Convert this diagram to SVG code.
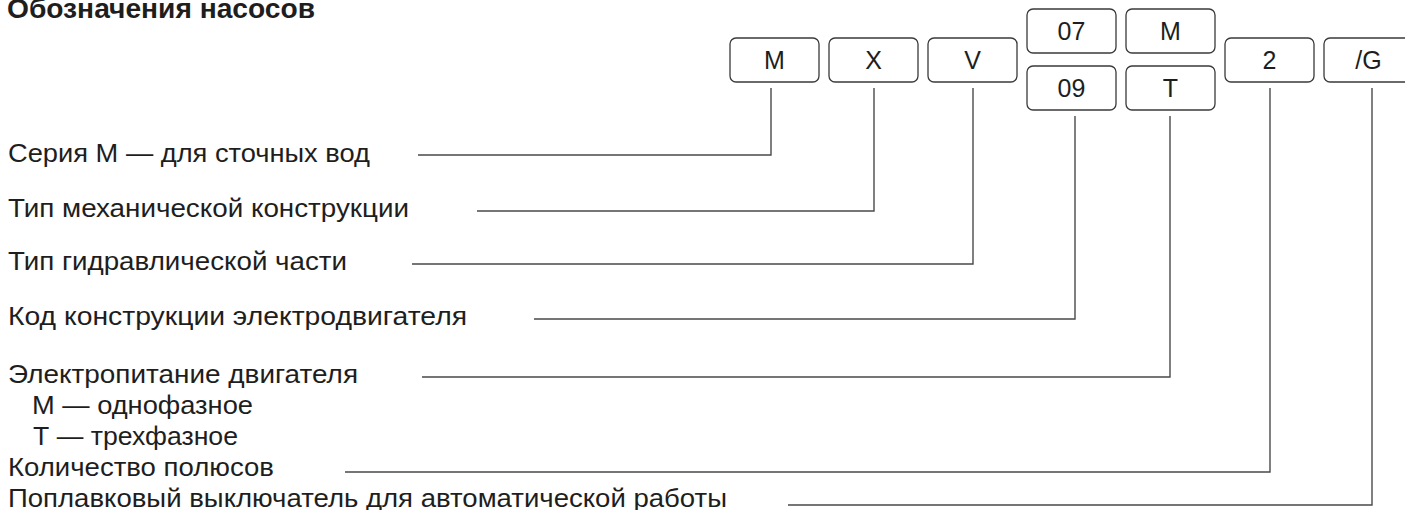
<svg xmlns="http://www.w3.org/2000/svg" width="1405" height="510" viewBox="0 0 1405 510">
<style>
text{font-family:"Liberation Sans",Arial,sans-serif;fill:#1e1e1e}
.title{font-size:27px;font-weight:bold}
.lbl{font-size:26px}
.box rect{fill:#fff;stroke:#3a3a3a;stroke-width:1.3}
.box text{font-size:25px;text-anchor:middle}
.conn path{fill:none;stroke:#4a4a4a;stroke-width:1.4}
</style>
<rect width="1405" height="510" fill="#fff"/>
<text class="title" x="7" y="18" textLength="308" lengthAdjust="spacingAndGlyphs">Обозначения насосов</text>
<g id="labels">
<text class="lbl" x="8" y="162" textLength="362" lengthAdjust="spacingAndGlyphs">Серия М — для сточных вод</text>
<text class="lbl" x="8" y="217" textLength="401" lengthAdjust="spacingAndGlyphs">Тип механической конструкции</text>
<text class="lbl" x="8" y="270" textLength="339" lengthAdjust="spacingAndGlyphs">Тип гидравлической части</text>
<text class="lbl" x="8" y="325" textLength="459" lengthAdjust="spacingAndGlyphs">Код конструкции электродвигателя</text>
<text class="lbl" x="8" y="383" textLength="350" lengthAdjust="spacingAndGlyphs">Электропитание двигателя</text>
<text class="lbl" x="32" y="414" textLength="221" lengthAdjust="spacingAndGlyphs">М — однофазное</text>
<text class="lbl" x="33" y="445" textLength="205" lengthAdjust="spacingAndGlyphs">Т — трехфазное</text>
<text class="lbl" x="8" y="476" textLength="266" lengthAdjust="spacingAndGlyphs">Количество полюсов</text>
<text class="lbl" x="8" y="507" textLength="719" lengthAdjust="spacingAndGlyphs">Поплавковый выключатель для автоматической работы</text>
</g>
<g id="node-M" class="box"><rect x="730" y="38" width="89" height="44" rx="6"/><text x="774.5" y="69">M</text></g>
<g id="node-X" class="box"><rect x="829" y="38" width="89" height="44" rx="6"/><text x="873.5" y="69">X</text></g>
<g id="node-V" class="box"><rect x="928" y="38" width="89" height="44" rx="6"/><text x="972.5" y="69">V</text></g>
<g id="node-07" class="box"><rect x="1027" y="9" width="89" height="44" rx="6"/><text x="1071.5" y="40">07</text></g>
<g id="node-09" class="box"><rect x="1027" y="66" width="89" height="44" rx="6"/><text x="1071.5" y="97">09</text></g>
<g id="node-Mtop" class="box"><rect x="1126" y="9" width="89" height="44" rx="6"/><text x="1170.5" y="40">M</text></g>
<g id="node-T" class="box"><rect x="1126" y="66" width="89" height="44" rx="6"/><text x="1170.5" y="97">T</text></g>
<g id="node-2" class="box"><rect x="1225" y="38" width="89" height="44" rx="6"/><text x="1269.5" y="69">2</text></g>
<g id="node-G" class="box"><rect x="1324" y="38" width="89" height="44" rx="6"/><text x="1368.5" y="69">/G</text></g>
<g id="connectors" class="conn">
<path d="M418 155H771V88"/>
<path d="M477 211H874V88"/>
<path d="M412 264H973V88"/>
<path d="M534 319H1075V116"/>
<path d="M422 377H1170V116"/>
<path d="M345 472H1270V88"/>
<path d="M788 505H1372V88"/>
</g>
</svg>
